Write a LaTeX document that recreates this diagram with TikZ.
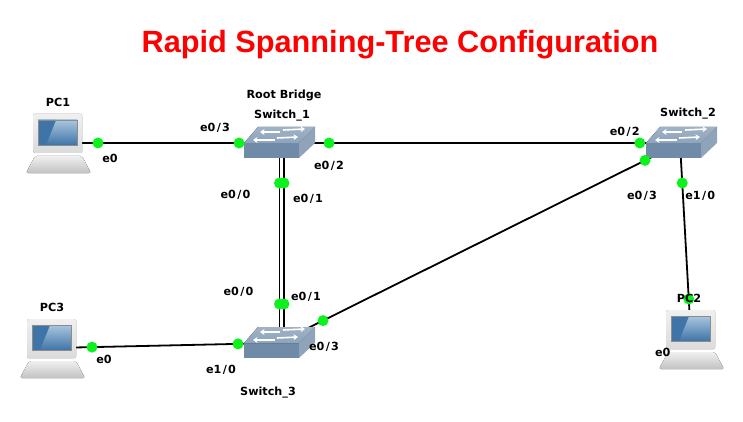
\documentclass[tikz,border=0pt]{standalone}
\usepackage{fontspec}
\setmainfont{DejaVu Sans}
\newfontfamily\titlefont{Liberation Sans}
\usetikzlibrary{arrows.meta,positioning,backgrounds,calc}
\definecolor{LinkDot}  {HTML}{0DF21F}
\definecolor{SwTop}    {HTML}{8EA4BC}
\definecolor{SwFront}  {HTML}{6F8BA8}
\definecolor{SwSide}   {HTML}{8FA3B9}
\definecolor{PcScreen} {HTML}{3F74A8}
\definecolor{PcGlare}  {HTML}{A9C6DE}
\newcommand{\portname}[2]{e#1\kern1.3pt/\kern1.3pt#2}
\tikzset{
  devbox/.style={minimum width=40pt,minimum height=26pt,inner sep=0pt},
  link/.style={draw=black,line width=1.8pt},
  portdot/.style={circle,fill=LinkDot,minimum size=11pt,inner sep=0pt},
  devlabel/.style={font=\bfseries\fontsize{11.2}{13}\selectfont,inner sep=0pt,yshift=-1pt},
  swarrow/.style={draw=white,line width=1.6pt,-{Stealth[length=4.5pt,width=6pt]}},
  switchicon/.pic={
    \fill[SwFront] (-34,0) -- (21,0) -- (21,15) -- (-34,15) -- cycle;
    \fill[top color=SwTop!85!white,bottom color=SwTop]
      (-34,0) -- (-20,-16) -- (37,-16) -- (21,0) -- cycle;
    \fill[SwSide] (21,0) -- (37,-16) -- (37,0) -- (21,15) -- cycle;
    \draw[swarrow] (2,-11) -- (-18,-11);
    \draw[swarrow] (5,-13) -- (27,-14);
    \draw[swarrow] (-3,-3) -- (-25,-3);
    \draw[swarrow] (-1,-5) -- (20,-6);
  },
  pcicon/.pic={
    \fill[top color=black!6,bottom color=black!14,rounded corners=1.5pt]
      (-25,-29) rectangle (24,10);
    \fill[top color=PcGlare,bottom color=PcScreen]
      (-20,-23) rectangle (19,2);
    \fill[PcScreen] (-20,2) -- (-20,-23) -- (-2,-23) -- (-12,2) -- cycle;
    \draw[black!45,line width=.6pt] (-20,-23) rectangle (19,2);
    \fill[top color=black!6,bottom color=black!24,rounded corners=2pt]
      (-23,13) -- (24,13) -- (33,30) -- (-32,30) -- cycle;
  }
}
\begin{document}
\begin{tikzpicture}[x=1pt,y=-1pt,on grid]
  \useasboundingbox (0,0) rectangle (743,422);
  \node[text=red,font=\titlefont\bfseries\fontsize{30.7}{34}\selectfont,inner sep=0pt]
    (Title) at (400,45) {Rapid Spanning-Tree Configuration};
  % devices
  \node[devbox] (SW1) at (278,143) {};
  \node[devbox,right=402pt of SW1] (SW2) {};
  \node[devbox,below=200pt of SW1] (SW3) {};
  \node[devbox,left=220pt of SW1] (PC1) {};
  \node[devbox,below left=5pt and 226pt of SW3] (PC3) {};
  \node[devbox,below right=196pt and 11pt of SW2] (PC2) {};
  \pic at (SW1) {switchicon};
  \pic at (SW2) {switchicon};
  \pic at (SW3) {switchicon};
  \pic at (PC1) {pcicon};
  \pic at (PC2) {pcicon};
  \pic at (PC3) {pcicon};
  % links go under the icons
  \begin{scope}[on background layer]
    \draw[link] (PC1.center)--(SW1.center);
    \draw[link] (SW1.center)--(SW2.center);
    \draw[link] ([xshift=1.5pt]SW1.center)--([xshift=1.5pt]SW3.center);
    \draw[link] ([xshift=6pt]SW1.center)--([xshift=6pt]SW3.center);
    \draw[link] (SW3.center)--(SW2.center);
    \draw[link] (SW2.center)--(PC2.center);
    \draw[link] (PC3.center)--(SW3.center);
  \end{scope}
  % port dots
  \node[portdot] (D1) at ($(PC1)!.182!(SW1)$) {};
  \node[portdot] (D2) at ($(PC1)!.823!(SW1)$) {};
  \node[portdot] (D3) at ($(SW1)!.127!(SW2)$) {};
  \node[portdot] (D4) at ($(SW1)!.9!(SW2)$) {};
  \node[portdot,below right=40pt and 1.5pt of SW1] (D5) {};
  \node[portdot,below right=40pt and 6pt of SW1] (D6) {};
  \node[portdot,above right=39pt and 1.5pt of SW3] (D7) {};
  \node[portdot,above right=39pt and 6pt of SW3] (D8) {};
  \node[portdot] (D9) at ($(SW3)!.112!(SW2)$) {};
  \node[portdot] (D10) at ($(SW3)!.913!(SW2)$) {};
  \node[portdot] (D11) at ($(SW2)!.204!(PC2)$) {};
  \node[portdot] (D12) at ($(SW2)!.796!(PC2)$) {};
  \node[portdot] (D13) at ($(PC3)!.177!(SW3)$) {};
  \node[portdot] (D14) at ($(PC3)!.823!(SW3)$) {};
  % labels
  \node[devlabel,above=42pt of PC1] (LPC1) {PC1};
  \node[devlabel,above=42pt of PC3] (LPC3) {PC3};
  \node[devlabel,above=42pt of PC2,xshift=-2pt] (LPC2) {PC2};
  \node[devlabel,above right=49pt and 6pt of SW1] (LRoot) {Root Bridge};
  \node[devlabel,above right=28.5pt and 4pt of SW1] (LSW1) {Switch\_1};
  \node[devlabel,above right=30.5pt and 8pt of SW2] (LSW2) {Switch\_2};
  \node[devlabel,below left=49pt and 10pt of SW3] (LSW3) {Switch\_3};
  \node[devlabel,below right=14pt and 12pt of D1] (E1) {e0};
  \node[devlabel,above left=16pt and 24pt of D2] (E2) {\portname{0}{3}};
  \node[devlabel,below=22pt of D3] (E3) {\portname{0}{2}};
  \node[devlabel,above left=12pt and 15pt of D4] (E4) {\portname{0}{2}};
  \node[devlabel,below left=11pt and 44pt of D5] (E5) {\portname{0}{0}};
  \node[devlabel,below right=15pt and 24pt of D6] (E6) {\portname{0}{1}};
  \node[devlabel,above left=13pt and 41pt of D7] (E7) {\portname{0}{0}};
  \node[devlabel,above right=8pt and 22pt of D8] (E8) {\portname{0}{1}};
  \node[devlabel,below right=25pt and 1pt of D9] (E9) {\portname{0}{3}};
  \node[devlabel,below left=34pt and 3pt of D10] (E10) {\portname{0}{3}};
  \node[devlabel,below right=12pt and 18pt of D11] (E11) {\portname{1}{0}};
  \node[devlabel,below left=52pt and 26pt of D12] (E12) {e0};
  \node[devlabel,below right=11pt and 12pt of D13] (E13) {e0};
  \node[devlabel,below left=25pt and 17pt of D14] (E14) {\portname{1}{0}};
\end{tikzpicture}
\end{document}
